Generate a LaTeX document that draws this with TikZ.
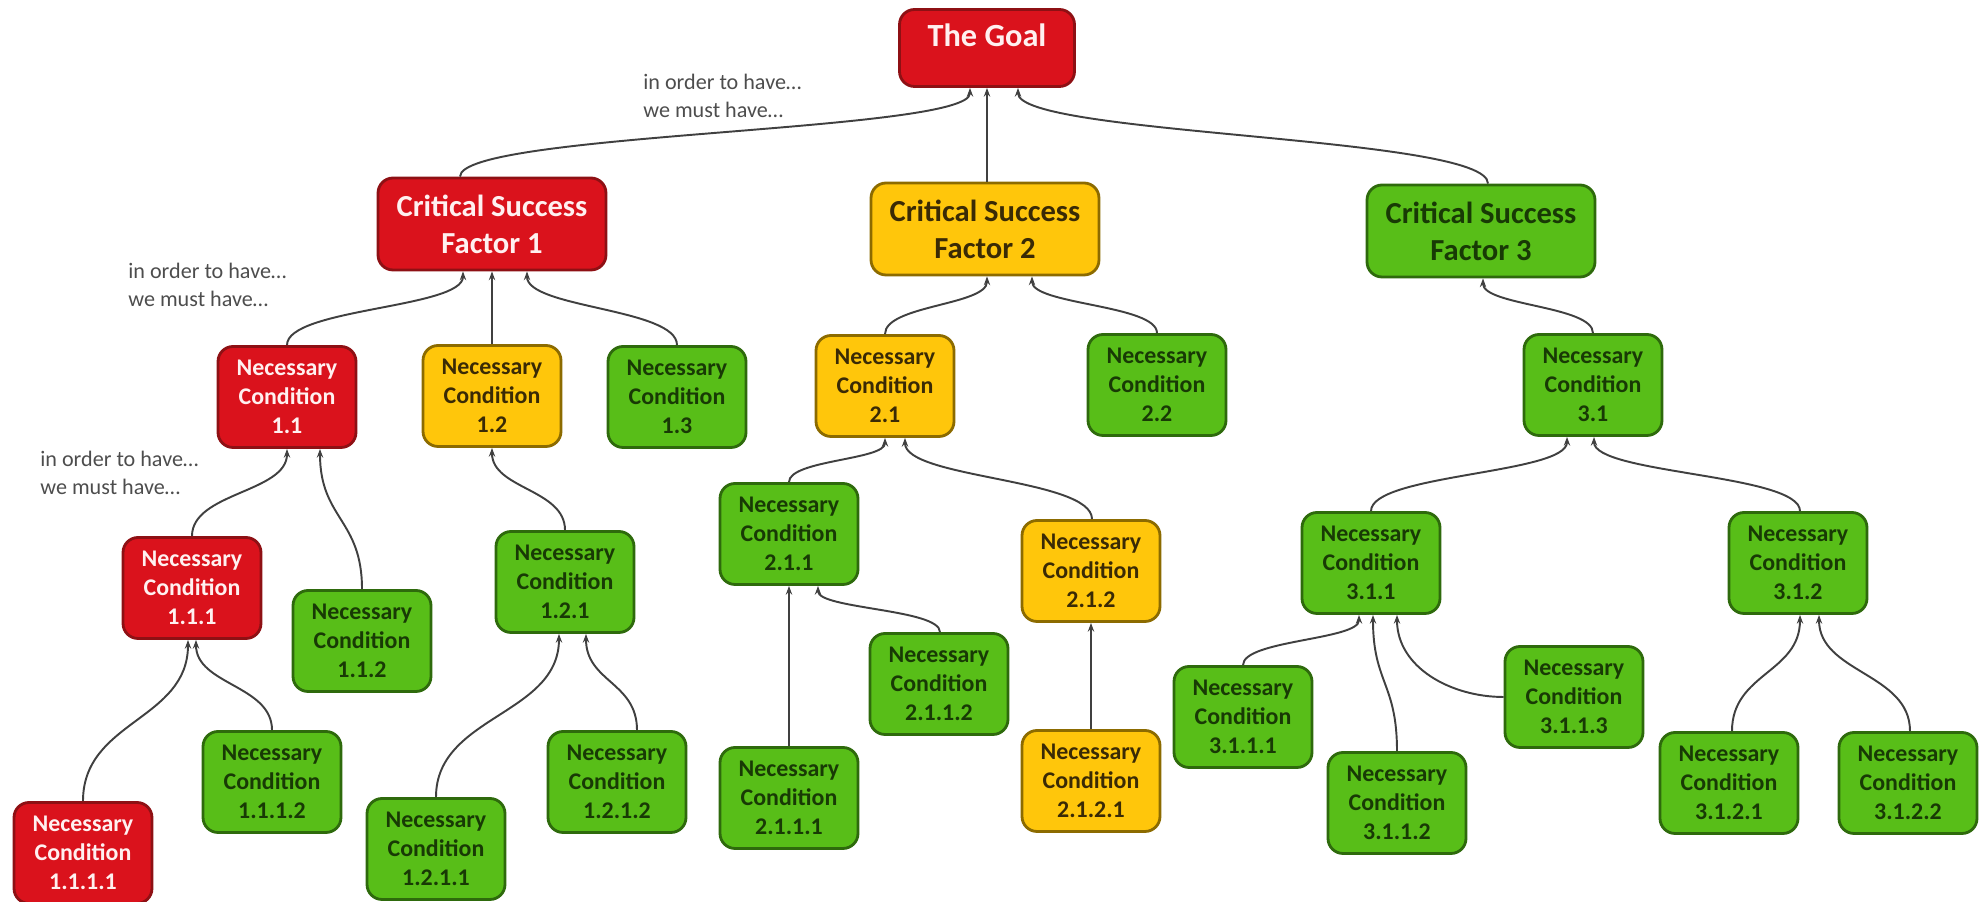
\documentclass[tikz,border=0pt]{standalone}
\usepackage{fontspec}
\setmainfont{Carlito}
\usepackage{tikz}
\usetikzlibrary{arrows.meta, calc}
\usepackage{xcolor}
\definecolor{tocred}{HTML}{DA121C}
\definecolor{tocredline}{HTML}{8E1014}
\definecolor{tocredtext}{HTML}{FFF0F0}
\definecolor{tocyellow}{HTML}{FFC60B}
\definecolor{tocyellowline}{HTML}{8C6B00}
\definecolor{tocyellowtext}{HTML}{3A2A05}
\definecolor{tocgreen}{HTML}{58BE18}
\definecolor{tocgreenline}{HTML}{2E6A0C}
\definecolor{tocgreentext}{HTML}{183A05}
\definecolor{toclink}{HTML}{404040}
\definecolor{tocnote}{HTML}{4D4D4D}

\begin{document}
\begin{tikzpicture}[x=0.02cm, y=0.02cm,
    box/.style={rectangle, rounded corners=0.3cm, line width=1.6pt, align=center, inner sep=0pt,
      minimum width=2.76cm, minimum height=2.02cm, font=\bfseries\fontsize{13.6}{16.6}\selectfont},
    big/.style={minimum width=4.56cm, minimum height=1.84cm, font=\bfseries\fontsize{17.4}{21}\selectfont},
    rd/.style={box, fill=tocred, draw=tocredline, text=tocredtext},
    yl/.style={box, fill=tocyellow, draw=tocyellowline, text=tocyellowtext},
    gr/.style={box, fill=tocgreen, draw=tocgreenline, text=tocgreentext},
    link/.style={draw=toclink, line width=1.1pt, -{Stealth[length=5pt, width=3.6pt]}},
    note/.style={text=tocnote, anchor=west, align=left, inner sep=0pt,
      font=\fontsize{12.6}{15.8}\selectfont}]
  \useasboundingbox (0,0) rectangle (1979,902);

  \node[rd, minimum width=3.5cm, minimum height=1.54cm, font=\bfseries\fontsize{18.4}{22}\selectfont,
    text height=0.45cm, text depth=0.5cm] (goal) at (987,854) {The Goal};

  \node[rd, big] (csf1) at (492,678) {Critical Success\\ Factor 1};
  \node[yl, big] (csf2) at (985,673) {Critical Success\\ Factor 2};
  \node[gr, big] (csf3) at (1481,671) {Critical Success\\ Factor 3};

  \node[rd] (n11) at (287,505) {Necessary\\ Condition\\ 1.1};
  \node[yl] (n12) at (492,506) {Necessary\\ Condition\\ 1.2};
  \node[gr] (n13) at (677,505) {Necessary\\ Condition\\ 1.3};
  \node[yl] (n21) at (885,516) {Necessary\\ Condition\\ 2.1};
  \node[gr] (n22) at (1157,517) {Necessary\\ Condition\\ 2.2};
  \node[gr] (n31) at (1593,517) {Necessary\\ Condition\\ 3.1};

  \node[rd] (n111) at (192,314) {Necessary\\ Condition\\ 1.1.1};
  \node[gr] (n112) at (362,261) {Necessary\\ Condition\\ 1.1.2};
  \node[gr] (n121) at (565,320) {Necessary\\ Condition\\ 1.2.1};
  \node[gr] (n211) at (789,368) {Necessary\\ Condition\\ 2.1.1};
  \node[yl] (n212) at (1091,331) {Necessary\\ Condition\\ 2.1.2};
  \node[gr] (n311) at (1371,339) {Necessary\\ Condition\\ 3.1.1};
  \node[gr] (n312) at (1798,339) {Necessary\\ Condition\\ 3.1.2};

  \node[rd] (n1111) at (83,49) {Necessary\\ Condition\\ 1.1.1.1};
  \node[gr] (n1112) at (272,120) {Necessary\\ Condition\\ 1.1.1.2};
  \node[gr] (n1211) at (436,53) {Necessary\\ Condition\\ 1.2.1.1};
  \node[gr] (n1212) at (617,120) {Necessary\\ Condition\\ 1.2.1.2};
  \node[gr] (n2111) at (789,104) {Necessary\\ Condition\\ 2.1.1.1};
  \node[gr] (n2112) at (939,218) {Necessary\\ Condition\\ 2.1.1.2};
  \node[yl] (n2121) at (1091,121) {Necessary\\ Condition\\ 2.1.2.1};
  \node[gr] (n3111) at (1243,185) {Necessary\\ Condition\\ 3.1.1.1};
  \node[gr] (n3112) at (1397,99) {Necessary\\ Condition\\ 3.1.1.2};
  \node[gr] (n3113) at (1574,205) {Necessary\\ Condition\\ 3.1.1.3};
  \node[gr] (n3121) at (1729,119) {Necessary\\ Condition\\ 3.1.2.1};
  \node[gr] (n3122) at (1908,119) {Necessary\\ Condition\\ 3.1.2.2};

  \foreach \kid/\kdx/\mom/\mdx in {csf1/-32/goal/-17, csf2/2/goal/0, csf3/7/goal/31,
      n11/0/csf1/-29, n12/0/csf1/0, n13/0/csf1/35, n21/0/csf2/2, n22/0/csf2/47, n31/0/csf3/2,
      n111/0/n11/0, n112/0/n11/33, n121/0/n12/0, n211/0/n21/0, n212/1/n21/20,
      n311/0/n31/-26, n312/2/n31/1,
      n1111/0/n111/-4, n1112/0/n111/4, n1211/0/n121/-6, n1212/20/n121/21,
      n2111/0/n211/0, n2112/1/n211/29, n2121/0/n212/0,
      n3111/0/n311/-12, n3112/0/n311/2, n3121/3/n312/2, n3122/2/n312/21}
    \draw[link] let \p1 = ($(\kid.north)+(\kdx,0)$), \p2 = ($(\mom.south)+(\mdx,0)$),
      \p3 = ($(\p1)!0.5!(\p2)$) in
      (\p1) .. controls (\x1,\y3) and (\x2,\y3) .. (\p2);
  \draw[link] (n3113.west) to[out=180, in=-90] ($(n311.south)+(26,0)$);

  \node[note] (note1) at (643,806) {in order to have…\\ we must have…};
  \node[note] (note2) at (128,617) {in order to have…\\ we must have…};
  \node[note] (note3) at (40,429) {in order to have…\\ we must have…};
\end{tikzpicture}
\end{document}
